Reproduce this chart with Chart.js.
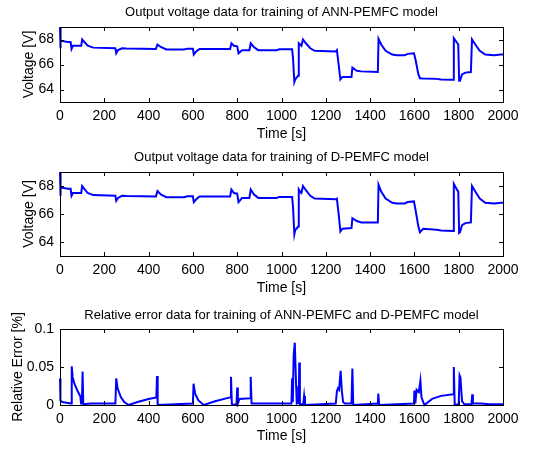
<!DOCTYPE html>
<html>
<head>
<meta charset="utf-8">
<script src="https://cdn.jsdelivr.net/npm/chart.js@4.4.0/dist/chart.umd.min.js"></script>
<style>
  html, body { margin: 0; padding: 0; background: #fff; }
  #wrap { position: relative; width: 536px; height: 449px; overflow: hidden; background: #fff; }
  canvas { position: absolute; left: 0; }
</style>
</head>
<body>
<div id="wrap">
  <canvas id="annChart" width="536" height="145" style="top:0px"></canvas>
  <canvas id="dChart" width="536" height="155" style="top:145px"></canvas>
  <canvas id="errChart" width="536" height="159" style="top:290px"></canvas>
</div>
<script>
// time stamps [s] for the two voltage traces
const timeV = [0, 1, 4, 35, 48, 52, 58, 96, 100, 110, 125, 150, 250, 254, 262, 280, 300, 433, 440, 455,
    480, 560, 575, 600, 604, 615, 630, 768, 774, 785, 800, 806, 822, 855, 861, 875, 895, 978, 990, 1048,
    1052, 1058, 1062, 1070, 1075, 1078, 1084, 1090, 1097, 1110, 1130, 1150, 1245, 1250, 1258, 1266, 1275, 1316, 1320, 1340,
    1360, 1435, 1438, 1450, 1470, 1500, 1520, 1556, 1570, 1598, 1605, 1618, 1625, 1640, 1700, 1720, 1775, 1778, 1790, 1798,
    1802, 1806, 1815, 1830, 1855, 1860, 1875, 1895, 1920, 1960, 1990, 2000];

// output voltage [V], ANN-PEMFC
const voltageAnn = [69.0, 67.3, 67.9, 67.8, 67.8, 67.25, 67.5, 67.5, 68.0, 67.8, 67.5, 67.35, 67.3, 66.9, 67.15, 67.3, 67.28, 67.25, 67.6, 67.4,
    67.2, 67.2, 67.27, 67.27, 66.8, 67.05, 67.25, 67.25, 67.7, 67.5, 67.45, 66.9, 67.15, 67.15, 67.7, 67.4, 67.15, 67.15, 67.22, 67.22,
    66.5, 64.6, 64.8, 65.0, 65.1, 67.7, 67.6, 67.5, 68.0, 67.7, 67.3, 67.1, 67.05, 67.15, 66.0, 64.8, 65.0, 65.0, 65.75, 65.5,
    65.45, 65.4, 68.05, 67.6, 67.1, 66.8, 66.75, 66.75, 66.85, 66.9, 66.4, 65.2, 64.9, 64.88, 64.85, 64.8, 64.78, 68.1, 67.8, 67.6,
    64.7, 64.7, 65.2, 65.35, 65.4, 68.0, 67.6, 67.1, 66.8, 66.75, 66.8, 66.8];

// output voltage [V], D-PEMFC
const voltageD = [69.0, 67.3, 67.9, 67.8, 67.8, 67.3, 67.5, 67.5, 68.0, 67.8, 67.5, 67.35, 67.3, 66.95, 67.15, 67.3, 67.28, 67.25, 67.65, 67.4,
    67.2, 67.2, 67.27, 67.27, 66.85, 67.05, 67.25, 67.25, 67.75, 67.5, 67.45, 66.85, 67.15, 67.15, 67.75, 67.4, 67.15, 67.15, 67.22, 67.22,
    66.5, 64.55, 64.85, 65.0, 65.1, 67.75, 67.6, 67.5, 68.0, 67.7, 67.3, 67.1, 67.05, 67.1, 66.0, 64.75, 64.95, 65.0, 65.7, 65.5,
    65.4, 65.4, 68.1, 67.6, 67.1, 66.8, 66.75, 66.75, 66.85, 66.9, 66.3, 65.1, 64.7, 64.95, 64.88, 64.82, 64.78, 68.15, 67.8, 67.6,
    64.65, 64.7, 65.2, 65.35, 65.4, 68.0, 67.6, 67.1, 66.8, 66.75, 66.8, 66.8];

// relative error [%]
const timeErr = [0, 2, 10, 50, 53, 57, 65, 80, 92, 95, 99, 102, 105, 140, 250, 254, 260, 275, 290, 310,
    350, 400, 435, 438, 441, 600, 603, 610, 625, 641, 650, 700, 768, 772, 776, 797, 800, 803, 810, 858,
    861, 865, 1045, 1048, 1051, 1055, 1060, 1066, 1069, 1078, 1080, 1083, 1098, 1102, 1106, 1245, 1250, 1255, 1260, 1267,
    1272, 1278, 1286, 1316, 1320, 1324, 1435, 1437, 1441, 1598, 1600, 1604, 1610, 1620, 1627, 1632, 1645, 1680, 1720, 1775,
    1778, 1782, 1800, 1804, 1808, 1815, 1825, 1858, 1861, 1864, 1900, 1940, 2000];
const relError = [0.035, 0.006, 0.004, 0.002, 0.051, 0.037, 0.028, 0.018, 0.011, 0.002, 0.003, 0.044, 0.001, 0.002, 0.002, 0.035, 0.022, 0.01, 0.004, 0.0,
    0.004, 0.008, 0.01, 0.038, 0.0, 0.002, 0.028, 0.015, 0.006, 0.002, 0.0, 0.005, 0.01, 0.037, 0.0, 0.001, 0.023, 0.002, 0.008, 0.009,
    0.037, 0.002, 0.002, 0.035, 0.004, 0.066, 0.082, 0.025, 0.002, 0.003, 0.056, 0.001, 0.001, 0.012, 0.0, 0.002, 0.018, 0.022, 0.02, 0.045,
    0.02, 0.004, 0.002, 0.002, 0.048, 0.0, 0.002, 0.015, 0.0, 0.002, 0.019, 0.002, 0.02, 0.017, 0.032, 0.01, 0.0, 0.008, 0.012, 0.014,
    0.05, 0.0, 0.001, 0.039, 0.036, 0.005, 0.001, 0.001, 0.014, 0.002, 0.002, 0.001, 0.001];

const voltageTicks = [64, 66, 68];
const errorTicks = [0, 0.05, 0.1];

const fontFamily = '"Liberation Sans", Arial, sans-serif';
Chart.defaults.font.family = fontFamily;
Chart.defaults.font.size = 14;
Chart.defaults.color = '#000';

function toPoints(xs, ys) {
    return xs.map((x, i) => ({x: x, y: ys[i]}));
}

// matlab style box with inward ticks, plus the plot title and y axis title
const boxPlugin = {
    id: 'matlabBox',
    afterDraw(chart, args, opts) {
        const ctx = chart.ctx;
        const a = chart.chartArea;
        const tl = 4;
        ctx.save();
        ctx.strokeStyle = '#000';
        ctx.lineWidth = 1;
        ctx.strokeRect(Math.round(a.left) + 0.5, Math.round(a.top) + 0.5,
            Math.round(a.right - a.left), Math.round(a.bottom - a.top));
        ctx.beginPath();
        chart.scales.x.ticks.forEach(t => {
            let px = Math.round(chart.scales.x.getPixelForValue(t.value)) + 0.5;
            ctx.moveTo(px, a.bottom); ctx.lineTo(px, a.bottom - tl);
            ctx.moveTo(px, a.top); ctx.lineTo(px, a.top + tl);
        });
        chart.scales.y.ticks.forEach(t => {
            let py = Math.round(chart.scales.y.getPixelForValue(t.value)) + 0.5;
            ctx.moveTo(a.left, py); ctx.lineTo(a.left + tl, py);
            ctx.moveTo(a.right, py); ctx.lineTo(a.right - tl, py);
        });
        ctx.stroke();

        ctx.fillStyle = '#000';
        ctx.textAlign = 'center';
        ctx.textBaseline = 'middle';
        ctx.font = '13px ' + fontFamily;
        ctx.fillText(opts.title, (a.left + a.right) / 2, opts.titleY);

        ctx.font = '14px ' + fontFamily;
        ctx.translate(opts.yTitleX, (a.top + a.bottom) / 2);
        ctx.rotate(-Math.PI / 2);
        ctx.fillText(opts.yTitle, 0, 0);
        ctx.restore();
    }
};

function makeChart(id, cfg) {
    return new Chart(document.getElementById(id), {
        type: 'line',
        data: {
            datasets: [{
                data: cfg.points,
                borderColor: '#0000ff',
                borderWidth: 2,
                pointRadius: 0,
                tension: 0,
                fill: false,
                clip: 2
            }]
        },
        options: {
            responsive: false,
            animation: false,
            layout: {padding: {left: 0, right: 33, top: cfg.top, bottom: 0}},
            plugins: {
                legend: {display: false},
                tooltip: {enabled: false},
                title: {display: false},
                matlabBox: {title: cfg.title, titleY: cfg.titleY, yTitle: cfg.yTitle, yTitleX: cfg.yTitleX}
            },
            scales: {
                x: {
                    type: 'linear',
                    min: 0,
                    max: 2000,
                    grid: {display: false, drawTicks: false},
                    border: {display: false},
                    ticks: {stepSize: 200, padding: 6, maxRotation: 0, autoSkip: false, callback: v => String(v)},
                    title: {display: true, text: 'Time [s]', padding: {top: 0, bottom: cfg.xTitlePad}},
                    afterFit: s => { s.height = cfg.xHeight; }
                },
                y: {
                    min: cfg.yMin,
                    max: cfg.yMax,
                    grid: {display: false, drawTicks: false},
                    border: {display: false},
                    ticks: {padding: 6, callback: v => String(v)},
                    afterBuildTicks: s => { s.ticks = cfg.yTicks.map(v => ({value: v})); },
                    afterFit: s => { s.width = 60; }
                }
            }
        },
        plugins: [boxPlugin]
    });
}

makeChart('annChart', {
    points: toPoints(timeV, voltageAnn),
    title: 'Output voltage data for training of ANN-PEMFC model',
    top: 27, titleY: 12,
    yTitle: 'Voltage [V]', yTitleX: 29,
    yMin: 63, yMax: 69, yTicks: voltageTicks,
    xHeight: 43, xTitlePad: 2
});

makeChart('dChart', {
    points: toPoints(timeV, voltageD),
    title: 'Output voltage data for training of D-PEMFC model',
    top: 27, titleY: 12,
    yTitle: 'Voltage [V]', yTitleX: 29,
    yMin: 63, yMax: 69, yTicks: voltageTicks,
    xHeight: 44, xTitlePad: 3
});

makeChart('errChart', {
    points: toPoints(timeErr, relError),
    title: 'Relative error data for training of ANN-PEMFC and D-PEMFC model',
    top: 39, titleY: 25,
    yTitle: 'Relative Error [%]', yTitleX: 18,
    yMin: 0, yMax: 0.1, yTicks: errorTicks,
    xHeight: 44, xTitlePad: 4
});
</script>
</body>
</html>
